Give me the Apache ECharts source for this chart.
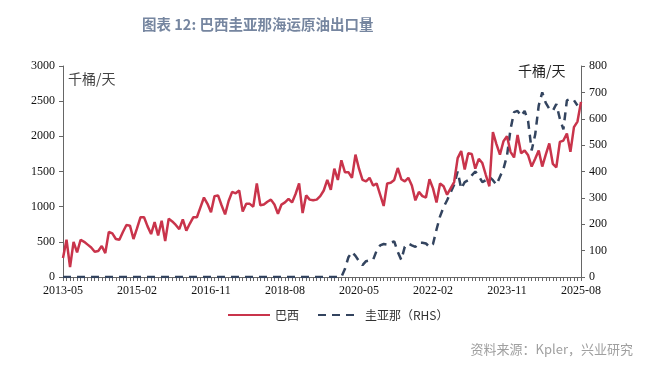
<!DOCTYPE html>
<html>
<head>
<meta charset="utf-8">
<script src="https://cdn.jsdelivr.net/npm/echarts@6/dist/echarts.min.js"></script>
<style>html,body{margin:0;padding:0;background:#fff;}#c{width:660px;height:365px;}</style>
</head>
<body>
<div id="c"></div>
<script>
// categories: monthly from 2013-05 to 2025-08
var startYear = 2013, startMonth = 5, monthCount = 148;
var categories = [];
for (var i = 0; i < monthCount; i++) {
  var m = startMonth - 1 + i;
  var y = startYear + Math.floor(m / 12);
  var mm = (m % 12) + 1;
  categories.push(y + '-' + (mm < 10 ? '0' + mm : mm));
}

// 巴西 (千桶/天, left axis)
var brazil = [
  270, 530, 140, 500, 350, 530, 500, 460, 420, 360,
  370, 440, 340, 640, 620, 540, 530, 640, 740, 730,
  540, 690, 850, 850, 720, 610, 780, 590, 800, 510,
  830, 790, 740, 680, 820, 660, 760, 850, 850, 990,
  1130, 1040, 920, 1150, 1160, 1020, 890, 1080, 1210, 1190,
  1230, 930, 1040, 1040, 1000, 1330, 1020, 1030, 1070, 1100,
  1030, 900, 1030, 1060, 1110, 1060, 1180, 1330, 910, 1160,
  1100, 1090, 1100, 1150, 1230, 1380, 1240, 1540, 1380, 1660,
  1490, 1490, 1410, 1740, 1540, 1380, 1360, 1410, 1300, 1330,
  1170, 1010, 1330, 1340, 1380, 1550, 1390, 1360, 1410, 1300,
  1090, 1210, 1150, 1130, 1390, 1260, 1060, 1330, 1290, 1170,
  1260, 1350, 1690, 1790, 1530, 1760, 1750, 1540, 1680, 1620,
  1450, 1290, 2060, 1890, 1740, 1930, 2000, 1780, 1700, 2020,
  1760, 1800, 1730, 1570, 1680, 1800, 1570, 1740, 1900, 1610,
  1560, 1920, 1940, 2040, 1780, 2130, 2210, 2490
];

// 圭亚那 (千桶/天, right axis)
var guyana = [
  0, 0, 0, 0, 0, 0, 0, 0, 0, 0,
  0, 0, 0, 0, 0, 0, 0, 0, 0, 0,
  0, 0, 0, 0, 0, 0, 0, 0, 0, 0,
  0, 0, 0, 0, 0, 0, 0, 0, 0, 0,
  0, 0, 0, 0, 0, 0, 0, 0, 0, 0,
  0, 0, 0, 0, 0, 0, 0, 0, 0, 0,
  0, 0, 0, 0, 0, 0, 0, 0, 0, 0,
  0, 0, 0, 0, 0, 0, 0, 0, 0, 0,
  30, 75, 95, 80, 60, 45, 60, 63, 65, 100,
  120, 125, 123, 130, 135, 95, 65, 115, 127, 120,
  114, 130, 130, 127, 114, 125, 180, 230, 265, 291,
  320, 350, 400, 335, 360, 367, 385, 400, 383, 360,
  367, 380, 367, 350, 380, 410, 460, 560, 625, 630,
  610, 630, 590, 480, 540, 650, 700, 660, 638, 630,
  656, 600, 560, 670, 676, 670, 650, null
];

var leftTicks = {min: 0, max: 3000, interval: 500};
var rightTicks = {min: 0, max: 800, interval: 100};

var chart = echarts.init(document.getElementById('c'), null, {renderer: 'canvas'});
var serif = 'Liberation Serif, Times New Roman, serif';
var cjk = 'Noto Sans CJK SC';
chart.setOption({
  animation: false,
  backgroundColor: '#fff',
  title: {
    text: '图表 12: 巴西圭亚那海运原油出口量',
    left: 137, top: 12,
    textStyle: {color: '#7686a0', fontSize: 14.5, fontWeight: 'bold', fontFamily: cjk}
  },
  grid: {left: 63, right: 79, top: 66, bottom: 88},
  legend: {
    left: 222, top: 304,
    itemGap: 18, itemWidth: 42, itemHeight: 10,
    textStyle: {fontFamily: cjk, fontSize: 12, color: '#333'},
    data: [{name: '巴西', itemStyle: {opacity: 0}}, {name: '圭亚那（RHS）', itemStyle: {opacity: 0}}]
  },
  graphic: [
    {type: 'text', left: 68, top: 72, style: {text: '千桶/天', fill: '#444', font: '14px "Noto Sans CJK SC"'}},
    {type: 'text', left: 518, top: 64, style: {text: '千桶/天', fill: '#222', font: '14px "Noto Sans CJK SC"'}},
    {type: 'text', right: 27, top: 343, style: {text: '资料来源：Kpler，兴业研究', fill: '#a0a0a0', font: '13px "Noto Sans CJK SC"'}}
  ],
  xAxis: {
    type: 'category',
    data: categories,
    boundaryGap: false,
    axisLine: {lineStyle: {color: '#666', width: 1}},
    axisTick: {show: true, interval: 0, length: 4, lineStyle: {color: '#666'}},
    axisLabel: {interval: 20, color: '#111', fontFamily: serif, fontSize: 12, margin: 8, showMaxLabel: true}
  },
  yAxis: [
    {
      type: 'value', min: leftTicks.min, max: leftTicks.max, interval: leftTicks.interval,
      splitLine: {show: false},
      axisLine: {show: true, lineStyle: {color: '#666'}},
      axisTick: {show: true, length: 4, lineStyle: {color: '#666'}},
      axisLabel: {color: '#111', fontFamily: serif, fontSize: 12, margin: 8, formatter: function (v) { return String(v); }}
    },
    {
      type: 'value', min: rightTicks.min, max: rightTicks.max, interval: rightTicks.interval,
      position: 'right',
      splitLine: {show: false},
      axisLine: {show: true, lineStyle: {color: '#666'}},
      axisTick: {show: true, length: 4, lineStyle: {color: '#666'}},
      axisLabel: {color: '#111', fontFamily: serif, fontSize: 12, margin: 8, formatter: function (v) { return String(v); }}
    }
  ],
  series: [
    {
      name: '巴西', type: 'line', yAxisIndex: 0, data: brazil,
      symbol: 'none', z: 3,
      lineStyle: {color: '#c9344b', width: 2.5},
      itemStyle: {color: '#c9344b'}
    },
    {
      name: '圭亚那（RHS）', type: 'line', yAxisIndex: 1, data: guyana,
      symbol: 'none', z: 2,
      lineStyle: {color: '#33445f', width: 2.5, type: [8, 6]},
      itemStyle: {color: '#33445f'}
    }
  ]
});
</script>
</body>
</html>
